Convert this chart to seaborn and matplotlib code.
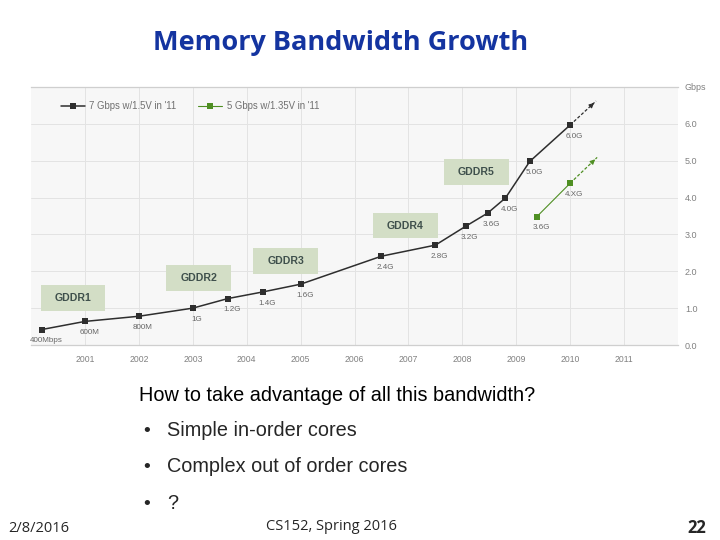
import matplotlib
matplotlib.use('Agg')
import matplotlib.pyplot as plt
from matplotlib.patches import Rectangle
import pandas as pd
import seaborn as sns

# main series (7 Gbps w/1.5V)
years_a = [2000.2, 2001.0, 2002.0, 2003.0, 2003.65, 2004.3, 2005.0, 2006.5,
           2007.5, 2008.06, 2008.47, 2008.8, 2009.25, 2010.0]
gbps_a = [0.42, 0.64, 0.78, 1.0, 1.26, 1.44, 1.65, 2.41, 2.71, 3.22, 3.58,
          3.99, 4.98, 5.97]
labels_a = ['400Mbps', '600M', '800M', '1G', '1.2G', '1.4G', '1.6G', '2.4G',
            '2.8G', '3.2G', '3.6G', '4.0G', '5.0G', '6.0G']
tip_a = (2010.48, 6.62)

# low voltage series (5 Gbps w/1.35V)
years_b = [2009.38, 2010.0]
gbps_b = [3.48, 4.39]
labels_b = ['3.6G', '4.XG']
tip_b = (2010.5, 5.09)

# generation boxes (centres)
gddr_names = ['GDDR1', 'GDDR2', 'GDDR3', 'GDDR4', 'GDDR5']
gddr_x = [2000.78, 2003.11, 2004.72, 2006.94, 2008.26]
gddr_y = [1.27, 1.81, 2.28, 3.24, 4.70]

year_ticks = list(range(2001, 2012))
gbps_ticks = [0, 1, 2, 3, 4, 5, 6, 7]
gbps_ticklabels = ['0.0', '1.0', '2.0', '3.0', '4.0', '5.0', '6.0', 'Gbps']

bullets = ['Simple in-order cores', 'Complex out of order cores', '?']

df_a = pd.DataFrame({'year': years_a, 'gbps': gbps_a})
df_b = pd.DataFrame({'year': years_b, 'gbps': gbps_b})

sns.set_style('white')
plt.rcParams['font.family'] = ['Liberation Sans', 'DejaVu Sans']

black = '#2e2e2e'
green = '#4f8f23'
gray = '#808080'

fig = plt.figure(figsize=(7.2, 5.4), dpi=100)
ax = fig.add_axes([0.0431, 0.3611, 0.8986, 0.4778])
ax.set_facecolor('#f7f7f7')

sns.lineplot(data=df_a, x='year', y='gbps', marker='s', color=black, lw=1.1,
             markersize=4.5, markeredgewidth=0, label="7 Gbps w/1.5V in '11", ax=ax)
sns.lineplot(data=df_b, x='year', y='gbps', marker='s', color=green, lw=0.8,
             markersize=4.5, markeredgewidth=0, label="5 Gbps w/1.35V in '11", ax=ax)

# dashed projections with arrow heads
for xs, ys, tip, c in [(years_a, gbps_a, tip_a, black), (years_b, gbps_b, tip_b, green)]:
    ax.plot([xs[-1], tip[0]], [ys[-1], tip[1]], ls=(0, (2.5, 1.5)), color=c, lw=0.9)
    dx = (tip[0] - xs[-1]) * 0.2
    dy = (tip[1] - ys[-1]) * 0.2
    ax.annotate('', xy=tip, xytext=(tip[0] - dx, tip[1] - dy),
                arrowprops=dict(arrowstyle='-|>', color=c, lw=0.8, mutation_scale=7))

# point labels
for xs, ys, labs in [(years_a, gbps_a, labels_a), (years_b, gbps_b, labels_b)]:
    for x, y, t in zip(xs, ys, labs):
        ax.annotate(t, (x, y), xytext=(3, -8), textcoords='offset points',
                    ha='center', va='center', fontsize=5.8, color='#666666')

# GDDR boxes
for name, cx, cy in zip(gddr_names, gddr_x, gddr_y):
    ax.add_patch(Rectangle((cx - 0.6, cy - 0.35), 1.2, 0.7, facecolor='#d3dec6',
                           edgecolor='none', zorder=1))
    ax.text(cx, cy, name, ha='center', va='center', fontsize=7.6,
            fontweight='bold', color='#3f504c', zorder=2)

ax.set_xlim(2000, 2012)
ax.set_ylim(0, 7)
ax.set_xticks(year_ticks)
ax.set_xticklabels([str(y) for y in year_ticks])
ax.set_yticks(gbps_ticks)
ax.set_yticklabels(gbps_ticklabels)
ax.yaxis.tick_right()
ax.tick_params(axis='x', length=0, pad=7, labelsize=6.2, labelcolor=gray)
ax.tick_params(axis='y', length=0, pad=5, labelsize=6.5, labelcolor=gray)
ax.set_xlabel('')
ax.set_ylabel('')
ax.grid(True, color='#e3e3e3', lw=0.7)
ax.set_axisbelow(True)
for s in ['left', 'right']:
    ax.spines[s].set_visible(False)
for s in ['top', 'bottom']:
    ax.spines[s].set_color('#cfcfcf')
    ax.spines[s].set_linewidth(0.9)

leg = ax.legend(loc='upper left', bbox_to_anchor=(0.04, 0.96), ncol=2, frameon=False,
                fontsize=6.9, handlelength=2.5, handletextpad=0.5, columnspacing=2.2,
                borderaxespad=0)
for t in leg.get_texts():
    t.set_color('#707070')

# slide text
fig.text(341 / 720, 1 - 43 / 540, 'Memory Bandwidth Growth', ha='center', va='center',
         fontsize=19.5, fontweight='bold', color='#1434a0', family=['Open Sans', 'DejaVu Sans'])
fig.text(139 / 720, 1 - 401 / 540, 'How to take advantage of all this bandwidth?',
         ha='left', va='baseline', fontsize=14.3, color='black')
for i, b in enumerate(bullets):
    yy = 1 - (436 + i * 36.5) / 540
    fig.text(143 / 720, yy, '\u2022', ha='left', va='baseline', fontsize=14)
    fig.text(167 / 720, yy, b, ha='left', va='baseline', fontsize=14.3)

foot = ['Open Sans', 'DejaVu Sans']
fig.text(8 / 720, 1 - 528 / 540, '2/8/2016', ha='left', va='center', fontsize=10.5, family=foot)
fig.text(331 / 720, 1 - 527 / 540, 'CS152, Spring 2016', ha='center', va='center',
         fontsize=10.5, family=foot)
fig.text(706 / 720, 1 - 528 / 540, '22', ha='right', va='center', fontsize=12,
         fontweight='bold', family=foot)

fig.savefig('out.png', dpi=100)
